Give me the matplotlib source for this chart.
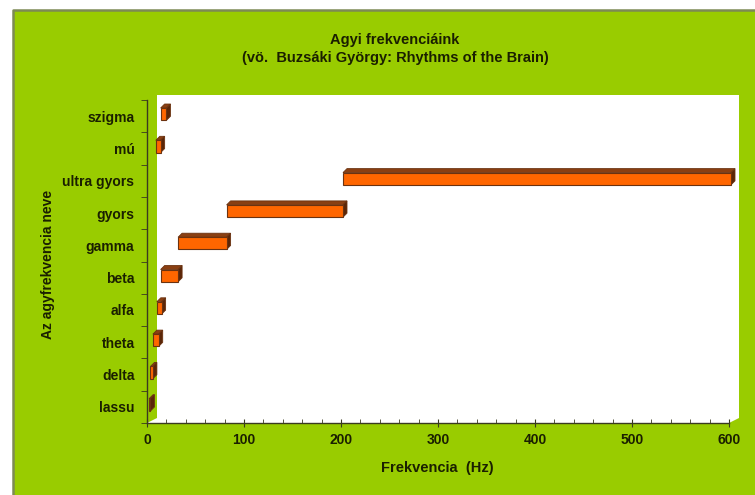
"""
Agyi frekvenciasavok - vizszintes "lebego" 3D-hatasu savdiagram
"""
import matplotlib.pyplot as plt
from matplotlib.patches import Polygon, Rectangle
from matplotlib.lines import Line2D
from matplotlib.ticker import MultipleLocator, FixedLocator

plt.rcParams['font.family'] = ['Liberation Sans', 'DejaVu Sans']

# ==================== adatok ====================
CATEGORIES = ["lassu", "delta", "theta", "alfa", "beta", "gamma",
              "gyors", "ultra gyors", "mú", "szigma"]
FREQ_LOW = [0.05, 1.5, 4, 8, 12, 30, 80, 200, 7, 12]     # Hz
FREQ_HIGH = [1.5, 4, 10, 13, 30, 80, 200, 600, 12, 18]   # Hz

TITLE = "Agyi frekvenciáink\n(vö.  Buzsáki György: Rhythms of the Brain)"
XLABEL = "Frekvencia  (Hz)"
YLABEL = "Az agyfrekvencia neve"
X_MAX = 600
# ================================================

W, H = 755, 495
GREEN = "#99CC00"
TEXT = "#1a1f00"
FRONT = "#FF6600"
TOP = "#8A3F12"
SIDE = "#5A2608"
EDGE = "#6B3210"
FS = 10

# axes box in pixels: left, top, right, bottom
AX_PX = (147, 100, 729, 423)
BAR_H = 0.38           # front face height (category units)
DEPTH_PX = (4, 4)      # 3D depth of the bars, pixels
SHIFT_PX = (2, 2)      # bars sit a little inside the wall
WALL_PX = (10, 5)      # back wall offset, pixels


def px_to_data(ax, dx_px, dy_px):
    """pixel distance -> data distance (fixed figure size)"""
    pos = ax.get_position()
    x0, x1 = ax.get_xlim()
    y0, y1 = ax.get_ylim()
    sx = (x1 - x0) / (pos.width * W)
    sy = (y1 - y0) / (pos.height * H)
    return dx_px * sx, dy_px * sy


def draw_bar(ax, y, lo, hi):
    """front face + top + right side of one floating bar"""
    dx, dy = px_to_data(ax, *DEPTH_PX)
    ox, oy = px_to_data(ax, *SHIFT_PX)
    lo, hi = lo + ox, hi + ox
    yb = y - BAR_H / 2 + oy
    yt = y + BAR_H / 2 + oy

    top = Polygon([(lo, yt), (hi, yt), (hi + dx, yt + dy), (lo + dx, yt + dy)],
                  closed=True, facecolor=TOP, edgecolor=EDGE, lw=0.6, zorder=3)
    side = Polygon([(hi, yb), (hi + dx, yb + dy), (hi + dx, yt + dy), (hi, yt)],
                   closed=True, facecolor=SIDE, edgecolor=EDGE, lw=0.6, zorder=3)
    front = Rectangle((lo, yb), hi - lo, yt - yb,
                      facecolor=FRONT, edgecolor=EDGE, lw=0.8, zorder=4)
    for p in (top, side, front):
        p.set_clip_on(False)
        ax.add_patch(p)


def main() -> None:
    fig = plt.figure(figsize=(W / 100, H / 100), dpi=100)
    fig.patch.set_facecolor("white")

    # green frame with a grey edge on top/left
    fx, fy = 13 / W, (H - 10) / H
    fig.patches.append(Rectangle((fx, 0), 1 - fx, fy, transform=fig.transFigure,
                                 facecolor=GREEN, edgecolor="none", zorder=-2))
    fig.lines.append(Line2D([fx, fx, 1], [0, fy, fy], transform=fig.transFigure,
                            color="#7d8a55", lw=1.8, zorder=-1))

    l, t, r, b = AX_PX
    aw, ah = r - l, b - t
    ax = fig.add_axes([l / W, (H - b) / H, aw / W, ah / H])
    ax.set_zorder(1)
    ax.set_facecolor("none")
    ax.set_xlim(0, X_MAX)
    ax.set_ylim(-0.5, len(CATEGORIES) - 0.5)

    # white back wall + floor
    wx, wy = WALL_PX[0] / aw, WALL_PX[1] / ah
    wall = Polygon([(0, 0), (1, 0), (1 + wx, wy), (1 + wx, 1 + wy),
                    (wx, 1 + wy), (wx, wy)], closed=True,
                   transform=ax.transAxes, facecolor="white",
                   edgecolor="none", zorder=0, clip_on=False)
    ax.add_patch(wall)

    for i, (lo, hi) in enumerate(zip(FREQ_LOW, FREQ_HIGH)):
        draw_bar(ax, i, lo, hi)

    for s in ("top", "right"):
        ax.spines[s].set_visible(False)
    for s in ("left", "bottom"):
        ax.spines[s].set_color("#3a3a20")
        ax.spines[s].set_linewidth(1.0)

    # y: labels at the centres, tick marks between categories
    ax.set_yticks(range(len(CATEGORIES)))
    ax.set_yticklabels(CATEGORIES)
    ax.yaxis.set_minor_locator(FixedLocator([i - 0.5 for i in range(len(CATEGORIES) + 1)]))
    ax.tick_params(axis="y", which="major", length=0, pad=9)
    ax.tick_params(axis="y", which="minor", length=4, direction="out", color="#3a3a20")

    ax.xaxis.set_major_locator(MultipleLocator(100))
    ax.xaxis.set_minor_locator(MultipleLocator(20))
    ax.tick_params(axis="x", which="major", length=6, direction="inout", color="#3a3a20", pad=4)
    ax.tick_params(axis="x", which="minor", length=3, direction="in", color="#3a3a20")

    for lab in ax.get_xticklabels() + ax.get_yticklabels():
        lab.set_fontsize(FS)
        lab.set_fontweight("bold")
        lab.set_color(TEXT)

    fig.text(395 / W, 1 - 49 / H, TITLE, ha="center", va="center",
             fontsize=FS + 0.5, fontweight="bold", color=TEXT, linespacing=1.35)
    fig.text(437 / W, 1 - 468 / H, XLABEL, ha="center", va="center",
             fontsize=FS + 0.5, fontweight="bold", color=TEXT)
    fig.text(48 / W, 1 - 264 / H, YLABEL, ha="center", va="center",
             rotation=90, fontsize=FS, fontweight="bold", color=TEXT)

    fig.savefig("out.png", dpi=100)
    plt.close(fig)


if __name__ == "__main__":
    main()
